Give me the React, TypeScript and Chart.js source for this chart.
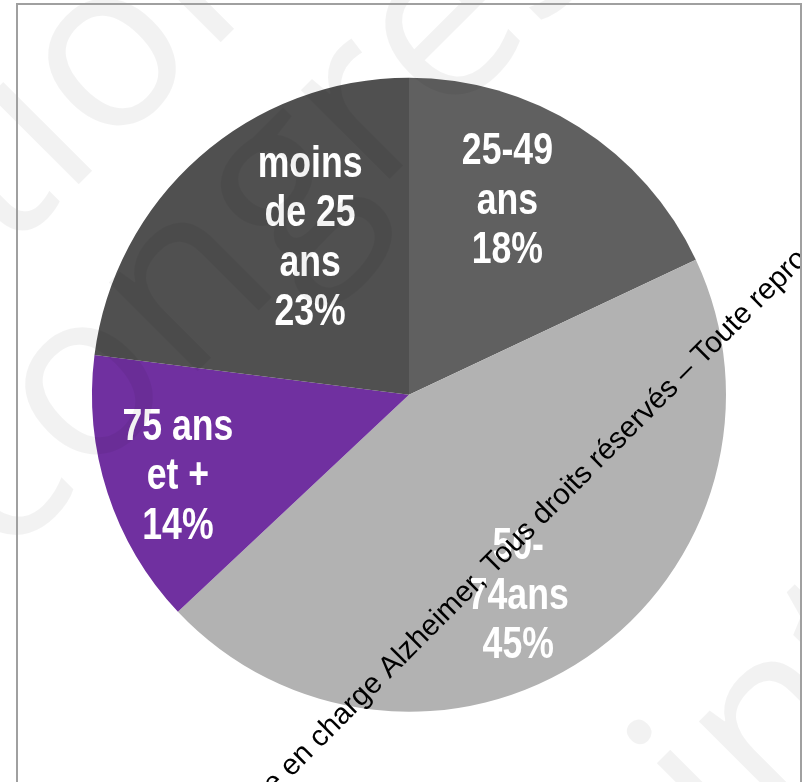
import React, { useEffect, useRef } from "react";
import { Chart, registerables } from "chart.js";

Chart.register(...registerables);

// ---- data ----
const categories = ["25-49 ans", "50-74ans", "75 ans et +", "moins de 25 ans"];
const labelLines = [["25-49", "ans"], ["50-", "74ans"], ["75 ans", "et +"], ["moins", "de 25", "ans"]];
const values = [18, 45, 14, 23];
const colors = ["#606060", "#b2b2b2", "#7030a0", "#505050"];

// label placement inside each slice (fraction of slice angle, fraction of radius)
const labelAngleFrac = [0.41, 0.533, 0.484, 0.616];
const labelRadiusFrac = [0.694, 0.714, 0.77, 0.592];

const watermarkText = "Prise en charge Alzheimer, Tous droits réservés – Toute reproduction interdite";
const faintLines = ["Reproduction", "congrès", "interdite"];

const LABEL_FS = 44;
const LABEL_LH = 49.5;
const LABEL_SX = 0.81;

const sliceLabels = {
  id: "sliceLabels",
  afterDatasetsDraw(chart: any) {
    const ctx = chart.ctx;
    const meta = chart.getDatasetMeta(0);
    meta.data.forEach((arc: any, i: number) => {
      const p = arc.getProps(["x", "y", "startAngle", "endAngle", "outerRadius"], true);
      const a = p.startAngle + (p.endAngle - p.startAngle) * labelAngleFrac[i];
      const r = p.outerRadius * labelRadiusFrac[i];
      const cx = p.x + Math.cos(a) * r;
      const cy = p.y + Math.sin(a) * r;
      const lines = [...labelLines[i], `${values[i]}%`];
      ctx.save();
      ctx.font = `bold ${LABEL_FS}px "Liberation Sans", Arial, sans-serif`;
      ctx.fillStyle = "#ffffff";
      ctx.textAlign = "center";
      ctx.textBaseline = "alphabetic";
      ctx.translate(cx, cy);
      ctx.scale(LABEL_SX, 1);
      const cap = LABEL_FS * 0.716;
      const n = lines.length;
      lines.forEach((t, k) => {
        ctx.fillText(t, 0, (k - (n - 1) / 2) * LABEL_LH + cap / 2);
      });
      ctx.restore();
    });
  },
};

function drawAnchored(ctx: CanvasRenderingContext2D, text: string, idx: number, px: number, py: number, angle: number, xh: number) {
  const pre = ctx.measureText(text.slice(0, idx)).width;
  const ch = ctx.measureText(text[idx]).width;
  ctx.save();
  ctx.translate(px, py);
  ctx.rotate(angle);
  ctx.textAlign = "left";
  ctx.textBaseline = "alphabetic";
  ctx.fillText(text, -(pre + ch / 2), xh / 2);
  ctx.restore();
}

const watermarks = {
  id: "watermarks",
  afterDraw(chart: any) {
    const ctx = chart.ctx as CanvasRenderingContext2D;
    const ang = -Math.PI / 4;
    // faint background watermark
    ctx.save();
    const ffs = 235;
    ctx.font = `400 ${ffs}px "Open Sans", "DejaVu Sans", sans-serif`;
    ctx.fillStyle = "rgba(0,0,0,0.05)";
    const fxh = ffs * 0.535;
    drawAnchored(ctx, faintLines[0], 10, 112, 62, ang, fxh);
    drawAnchored(ctx, faintLines[1], 1, 89, 391, ang, fxh);
    drawAnchored(ctx, faintLines[2], 1, 780, 729, ang, fxh);
    ctx.restore();
    // black diagonal text
    ctx.save();
    const bfs = 29.5;
    ctx.font = `${bfs}px "Liberation Sans", Arial, sans-serif`;
    ctx.fillStyle = "#000000";
    drawAnchored(ctx, watermarkText, 9, 320, 738, ang, bfs * 0.519);
    ctx.restore();
  },
};

export default function App() {
  const ref = useRef<HTMLCanvasElement>(null);
  useEffect(() => {
    if (!ref.current) return;
    const chart = new Chart(ref.current, {
      type: "pie",
      data: {
        labels: categories,
        datasets: [
          {
            data: values,
            backgroundColor: colors,
            borderWidth: 0,
          },
        ],
      },
      options: {
        animation: false,
        responsive: false,
        devicePixelRatio: 1,
        layout: { padding: { left: 92, right: 76, top: 77.5, bottom: 70 } },
        plugins: {
          legend: { display: false },
          tooltip: { enabled: false },
        },
      },
      plugins: [sliceLabels, watermarks],
    });
    return () => chart.destroy();
  }, []);

  return (
    <div style={{ position: "absolute", left: 0, top: 0, width: 802, height: 782, overflow: "hidden", background: "#ffffff" }}>
      <canvas ref={ref} width={802} height={782} style={{ position: "absolute", left: 0, top: 0, width: 802, height: 782 }} />
      <div
        style={{
          position: "absolute",
          left: 16,
          top: 3,
          width: 786,
          height: 820,
          border: "2px solid #a0a0a0",
          boxSizing: "border-box",
          pointerEvents: "none",
        }}
      />
    </div>
  );
}
